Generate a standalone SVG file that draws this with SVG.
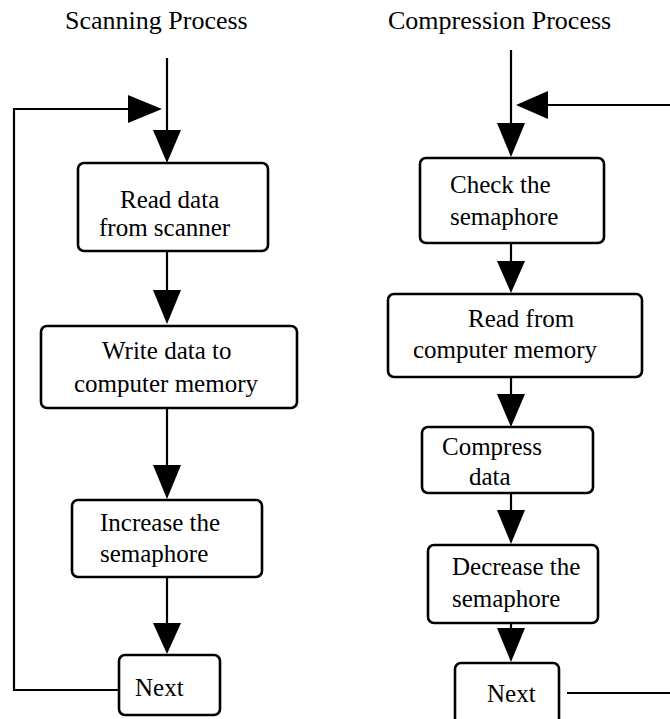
<svg xmlns="http://www.w3.org/2000/svg" width="670" height="719" viewBox="0 0 670 719">
<style>
  .box { fill: #fff; stroke: #000; stroke-width: 2.6; }
  .ln { fill: none; stroke: #000; stroke-width: 2.2; }
  .ah { fill: #000; stroke: none; }
  text { font-family: "Liberation Serif", "Times New Roman", serif; font-size: 25px; fill: #000; }
  .title { font-size: 26px; }
</style>
<rect width="670" height="719" fill="#fff"/>
<text class="title" x="65" y="29">Scanning Process</text>
<text class="title" x="388" y="29">Compression Process</text>

<g id="connectors">
  <!-- left -->
  <line class="ln" x1="167" y1="58" x2="167" y2="132"/>
  <polygon class="ah" points="153,130 181,130 167,163"/>
  <polyline class="ln" points="119,690 14,690 14,109 130,109"/>
  <polygon class="ah" points="128,95 128,123 162,109"/>
  <line class="ln" x1="167" y1="251" x2="167" y2="292"/>
  <polygon class="ah" points="153,290 181,290 167,324"/>
  <line class="ln" x1="167" y1="408" x2="167" y2="467"/>
  <polygon class="ah" points="153,465 181,465 167,499"/>
  <line class="ln" x1="167" y1="577" x2="167" y2="625"/>
  <polygon class="ah" points="153,623 181,623 167,654"/>
  <!-- right -->
  <line class="ln" x1="511" y1="50" x2="511" y2="125"/>
  <polygon class="ah" points="497,123 525,123 511,157"/>
  <line class="ln" x1="670" y1="105" x2="546" y2="105"/>
  <polygon class="ah" points="548,91 548,119 516,105"/>
  <line class="ln" x1="511" y1="243" x2="511" y2="263"/>
  <polygon class="ah" points="497,261 525,261 511,293"/>
  <line class="ln" x1="511" y1="377" x2="511" y2="396"/>
  <polygon class="ah" points="497,394 525,394 511,427"/>
  <line class="ln" x1="511" y1="493" x2="511" y2="512"/>
  <polygon class="ah" points="497,510 525,510 511,544"/>
  <line class="ln" x1="511" y1="623" x2="511" y2="630"/>
  <polygon class="ah" points="497,628 525,628 511,662"/>
  <line class="ln" x1="567" y1="693" x2="670" y2="693"/>
</g>

<g id="read-scanner">
  <rect class="box" x="78" y="163" width="190" height="88" rx="6"/>
  <text x="120" y="208">Read data</text>
  <text x="99" y="236">from scanner</text>
</g>
<g id="write-memory">
  <rect class="box" x="41" y="326" width="256" height="82" rx="6"/>
  <text x="102" y="359">Write data to</text>
  <text x="74" y="392">computer memory</text>
</g>
<g id="increase-semaphore">
  <rect class="box" x="72" y="500" width="190" height="77" rx="6"/>
  <text x="100" y="531">Increase the</text>
  <text x="100" y="562">semaphore</text>
</g>
<g id="next-left">
  <rect class="box" x="119" y="655" width="101" height="60" rx="6"/>
  <text x="135" y="696">Next</text>
</g>

<g id="check-semaphore">
  <rect class="box" x="420" y="158" width="184" height="85" rx="6"/>
  <text x="450" y="193">Check the</text>
  <text x="450" y="225">semaphore</text>
</g>
<g id="read-memory">
  <rect class="box" x="388" y="294" width="254" height="83" rx="6"/>
  <text x="468" y="327">Read from</text>
  <text x="413" y="358">computer memory</text>
</g>
<g id="compress-data">
  <rect class="box" x="422" y="427" width="171" height="66" rx="6"/>
  <text x="442" y="455">Compress</text>
  <text x="469" y="485">data</text>
</g>
<g id="decrease-semaphore">
  <rect class="box" x="428" y="545" width="170" height="78" rx="6"/>
  <text x="452" y="575">Decrease the</text>
  <text x="452" y="607">semaphore</text>
</g>
<g id="next-right">
  <rect class="box" x="455" y="663" width="104" height="70" rx="6"/>
  <text x="487" y="702">Next</text>
</g>
</svg>
